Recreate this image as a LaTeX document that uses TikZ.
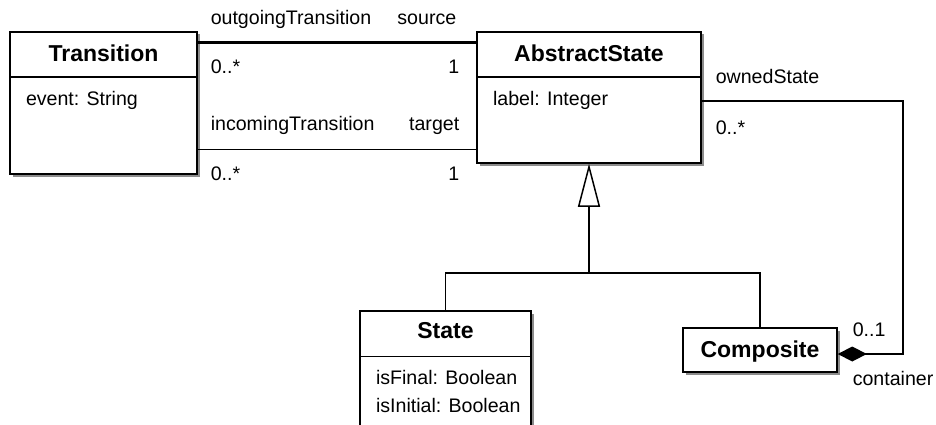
\documentclass[tikz,border=0pt]{standalone}
\usepackage{fontspec}
\setmainfont{Liberation Sans}
\usetikzlibrary{calc, arrows.meta, shadows}
\tikzset{
    classbox/.style={draw, fill=white, inner sep=0pt,
        drop shadow={shadow xshift=2.5pt, shadow yshift=-2.5pt, fill=black!45, opacity=1}},
    title/.style={font=\fontsize{23}{27}\selectfont\bfseries, anchor=base, inner sep=0pt},
    attr/.style={font=\fontsize{19.6}{23}\selectfont, anchor=base west, inner sep=0pt},
    rolename/.style={font=\fontsize{19.6}{23}\selectfont, anchor=base west, inner sep=0pt},
    roleright/.style={rolename, anchor=base east}
}

\begin{document}
\begin{tikzpicture}[x=1pt, y=-1pt, line width=1.5pt, >=stealth]
    \useasboundingbox (0,0) rectangle (936,425);
    \clip (0,0) rectangle (936,425);

    % classes
    \node[classbox, minimum width=187pt, minimum height=142pt] (trans) at (103.5,103) {};
    \node[classbox, minimum width=224pt, minimum height=131pt] (abstract) at (589,97.5) {};
    \node[classbox, minimum width=171pt, minimum height=150pt] (state) at (445.5,386) {};
    \node[classbox, minimum width=154pt, minimum height=44pt] (composite) at (760,350) {};

    % compartments
    \draw ($(trans.north west)+(0,46)$) -- ($(trans.north east)+(0,46)$);
    \draw ($(abstract.north west)+(0,46)$) -- ($(abstract.north east)+(0,46)$);
    \draw ($(state.north west)+(0,46)$) -- ($(state.north east)+(0,46)$);

    \node[title] at ($(trans.north)+(0,30)$) {Transition};
    \node[attr] at ($(trans.north west)+(16,74)$) {event: String};
    \node[title] at ($(abstract.north)+(0,30)$) {AbstractState};
    \node[attr] at ($(abstract.north west)+(16,74)$) {label: Integer};
    \node[title] at ($(state.north)+(0,28)$) {State};
    \node[attr] at ($(state.north west)+(16,74)$) {isFinal: Boolean};
    \node[attr] at ($(state.north west)+(16,102)$) {isInitial: Boolean};
    \node[title] at ($(composite.center)+(0,7)$) {Composite};

    % associations
    \draw[line width=2.6pt] ($(trans.north east)+(0,11)$) -- ($(abstract.north west)+(0,11)$);
    \draw ($(trans.north east)+(0,118)$) -- ($(abstract.north west)+(0,118)$);

    \node[rolename] at (210,25) {outgoingTransition};
    \node[roleright] at (457,25) {source};
    \node[rolename] at (210,74) {0..*};
    \node[roleright] at (460,74) {1};
    \node[rolename] at (210,131) {incomingTransition};
    \node[roleright] at (460,131) {target};
    \node[rolename] at (210,180) {0..*};
    \node[roleright] at (460,180) {1};

    % generalization
    \coordinate (fork) at ($(abstract.south)+(0,109)$);
    \draw[-{Triangle[open, length=43pt, width=22pt]}, line join=miter] (fork) -- (abstract.south);
    \draw (state.north) |- (fork) -| (composite.north);

    % composition
    \coordinate (own) at ($(abstract.north east)+(0,70)$);
    \coordinate (bend) at ($(composite.east)+(65,4)$);
    \draw[{Diamond[length=29pt, width=15pt]}-] ($(composite.east)+(0,4)$) -- (bend) |- (own);

    \node[rolename] at (715,84) {ownedState};
    \node[rolename] at (715,135) {0..*};
    \node[rolename] at (852,336) {0..1};
    \node[rolename] at (852,385) {container};
\end{tikzpicture}
\end{document}
